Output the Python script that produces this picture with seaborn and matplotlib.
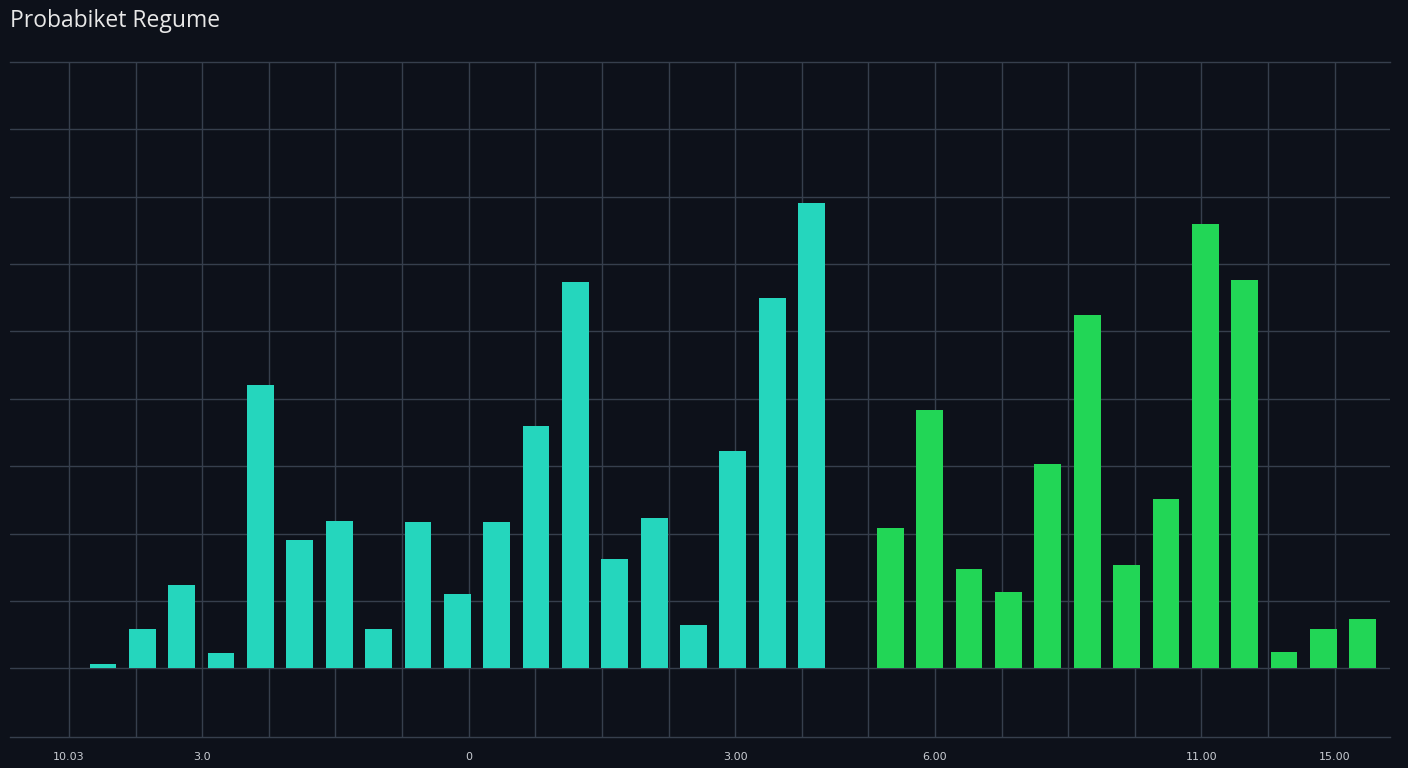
import numpy as np
import pandas as pd
import matplotlib
matplotlib.use("Agg")
import matplotlib.pyplot as plt
import seaborn as sns

# values (grid units)
teal_vals = [0.07, 0.59, 1.23, 0.22, 4.2, 1.9, 2.18, 0.58, 2.17, 1.11,
             2.17, 3.59, 5.74, 1.62, 2.23, 0.64, 3.23, 5.5, 6.9]
green_vals = [2.08, 3.84, 1.47, 1.13, 3.03, 5.24, 1.53, 2.52, 6.6, 5.76,
              0.24, 0.58, 0.73]
tick_labels = ["10.03", "", "3.0", "", "", "", "0", "", "", "", "3.00",
               "", "", "6.00", "", "", "", "11.00", "", "15.00"]

bg = "#0d111a"
grid_c = "#363f4d"
teal = "#25d6bd"
green = "#22d656"

teal_bins = [f"t{i:02d}" for i in range(len(teal_vals))]
green_bins = [f"g{i:02d}" for i in range(len(green_vals))]
df = pd.DataFrame({"bin": teal_bins + green_bins,
                   "value": teal_vals + green_vals,
                   "group": ["a"] * len(teal_vals) + ["b"] * len(green_vals)})
# one empty slot between the two groups
order = teal_bins + ["gap"] + green_bins

sns.set_style("dark")
fig = plt.figure(figsize=(14.08, 7.68), dpi=100, facecolor=bg)
ax = fig.add_axes([10 / 1408, 31 / 768, 1380 / 1408, 675 / 768])

sns.barplot(data=df, x="bin", y="value", hue="group", order=order,
            palette={"a": teal, "b": green}, dodge=False, width=0.68,
            saturation=1, linewidth=0, legend=False, ax=ax)

ax.set_xlim(-2.36, 32.69)
ax.set_ylim(-1.02, 9.0)
ax.set_yticks(range(0, 9))
ax.set_xticks([])
ax.tick_params(axis="y", length=0, labelleft=False)
ax.set_xlabel("")
ax.set_ylabel("")
ax.patch.set_visible(False)
ax.set_axisbelow(True)
ax.grid(axis="y", color=grid_c, linewidth=1)
for s in ["left", "right"]:
    ax.spines[s].set_visible(False)
for s in ["top", "bottom"]:
    ax.spines[s].set_color(grid_c)
    ax.spines[s].set_linewidth(1)

# second x scale for the vertical grid and the bottom labels
ax2 = ax.twiny()
ax2.set_xlim(-0.886, 19.83)
ax2.set_xticks(range(len(tick_labels)))
ax2.set_xticklabels(tick_labels)
ax2.xaxis.tick_bottom()
ax2.tick_params(axis="x", length=0, pad=11, labelsize=8, colors="#c8ccd2")
ax2.grid(axis="x", color=grid_c, linewidth=1)
ax2.patch.set_visible(False)
for s in ax2.spines.values():
    s.set_visible(False)
ax.set_zorder(2)
ax2.set_zorder(1)

fig.text(10 / 1408, 1 - 21 / 768, "Probabiket Regume", color="#e8e8e8",
         fontsize=16.5, va="center", ha="left",
         family=["Open Sans", "DejaVu Sans"])

fig.savefig("out.png", dpi=100, facecolor=bg)
